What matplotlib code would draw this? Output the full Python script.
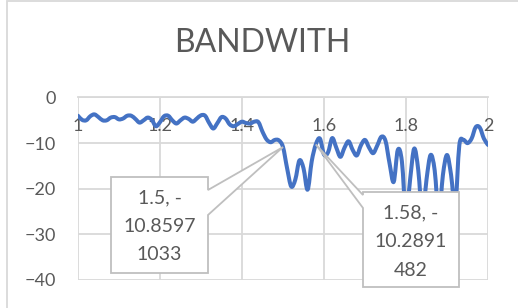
import numpy as np
import matplotlib
matplotlib.use("Agg")
import matplotlib.pyplot as plt
from matplotlib.path import Path
from matplotlib.patches import PathPatch, Polygon, Rectangle

# frequency (GHz) and response (dB), one point every 0.01
freq = [round(1 + i * 0.01, 2) for i in range(101)]
gain = [-4.0, -4.9, -5.0, -4.1, -3.7, -4.3, -5.0, -5.0, -4.4, -4.3,
        -4.8, -4.6, -4.0, -4.0, -4.7, -5.5, -5.0, -4.4, -4.9, -6.3,
        -5.4, -4.1, -4.0, -5.0, -5.7, -5.0, -4.4, -4.7, -5.3, -4.6,
        -3.9, -4.0, -5.6, -6.8, -5.6, -4.3, -4.6, -5.9, -6.3, -5.8,
        -5.3, -5.6, -5.7, -5.3, -5.4, -7.5, -9.2, -9.8, -9.3, -9.4,
        -10.85971033, -15.5, -19.5, -18.0, -13.8, -15.5, -20.2, -14.0, -10.2891482, -9.0,
        -12.5, -12.0, -8.9, -11.0, -13.0, -11.0, -9.6, -11.5, -12.7, -10.5,
        -9.3, -11.0, -12.2, -10.5, -8.6, -9.5, -14.5, -18.5, -11.5, -14.0,
        -26.0, -18.0, -11.2, -16.0, -26.0, -18.0, -12.6, -16.0, -26.0, -17.0,
        -12.6, -17.0, -24.0, -10.5, -9.3, -10.0, -9.0, -6.5, -6.6, -9.0,
        -10.4]

x_ticks = [1, 1.2, 1.4, 1.6, 1.8, 2]
x_tick_labels = ["1", "1.2", "1.4", "1.6", "1.8", "2"]
y_ticks = [0, -10, -20, -30, -40]

# data labels shown on the chart (index into the series, wrapped text)
label_idx = [50, 58]
label_text = ["1.5, -\n10.8597\n1033", "1.58, -\n10.2891\n482"]

TEXT = "#595959"
GRID = "#d9d9d9"
LINE = "#4472c4"

plt.rcParams["font.family"] = ["Lato", "DejaVu Sans"]

W, H = 518, 308
fig = plt.figure(figsize=(W / 100, H / 100), dpi=100)
ax = fig.add_axes([78 / W, 1 - 280 / H, 410 / W, (280 - 97.5) / H])

ax.set_xlim(1, 2)
ax.set_ylim(-40, 0)
ax.set_xticks(x_ticks)
ax.set_xticklabels(x_tick_labels)
ax.set_yticks(y_ticks)
ax.grid(True, color=GRID, lw=1.3)
ax.set_axisbelow(True)
for s in ["top", "right", "left"]:
    ax.spines[s].set_visible(False)
ax.spines["bottom"].set_position(("data", 0))
ax.spines["bottom"].set_color(GRID)
ax.spines["bottom"].set_linewidth(1.3)
ax.tick_params(axis="x", length=0, pad=15, labelsize=13, labelcolor=TEXT)
ax.tick_params(axis="y", length=0, pad=16, labelsize=13, labelcolor=TEXT)

# smoothed line like Excel: cubic bezier through the points
pts = np.column_stack([freq, gain])
n = len(pts)
verts = [pts[0]]
codes = [Path.MOVETO]
for i in range(n - 1):
    p0 = pts[max(i - 1, 0)]
    p1 = pts[i]
    p2 = pts[i + 1]
    p3 = pts[min(i + 2, n - 1)]
    verts += [p1 + (p2 - p0) / 6, p2 - (p3 - p1) / 6, p2]
    codes += [Path.CURVE4] * 3
ax.add_patch(PathPatch(Path(verts, codes), fill=False, edgecolor=LINE,
                       lw=2.9, capstyle="round", joinstyle="round", zorder=3))


def fpx(px, py):
    return (px / W, 1 - py / H)


# callout boxes (pixel layout), tip at the data point
boxes = [
    dict(l=111, r=208, t=177, b=273, side="right", w0=190, w1=215),
    dict(l=363, r=459, t=192, b=287, side="left", w0=195, w1=208),
]
for k, bx in zip(label_idx, boxes):
    tip = fig.transFigure.inverted().transform(
        ax.transData.transform((freq[k], gain[k])))
    l, r, t, b = bx["l"], bx["r"], bx["t"], bx["b"]
    if bx["side"] == "right":
        poly = [fpx(l, t), fpx(r, t), fpx(r, bx["w0"]), tip,
                fpx(r, bx["w1"]), fpx(r, b), fpx(l, b)]
    else:
        poly = [fpx(l, t), fpx(r, t), fpx(r, b), fpx(l, b),
                fpx(l, bx["w1"]), tip, fpx(l, bx["w0"])]
    ax.add_patch(Polygon(poly, closed=True, transform=fig.transFigure,
                         facecolor="white", edgecolor="#bfbfbf", lw=1.3,
                         clip_on=False, zorder=5))
    cx = (l + r) / 2
    for j, line in enumerate(label_text[label_idx.index(k)].split("\n")):
        fig.text(cx / W, 1 - (t + 21 + 28.5 * j) / H, line, ha="center",
                 va="center", fontsize=14, color=TEXT, zorder=6)

fig.text(262 / W, 1 - 43 / H, "BANDWITH", ha="center", va="center",
         fontsize=23, color=TEXT)

# chart area border
fig.patches.append(Rectangle((7 / W, -0.1), 1.2, 1.1 - 1 / H,
                             transform=fig.transFigure, fill=False,
                             edgecolor=GRID, lw=1.3))

fig.savefig("out.png", dpi=100)
